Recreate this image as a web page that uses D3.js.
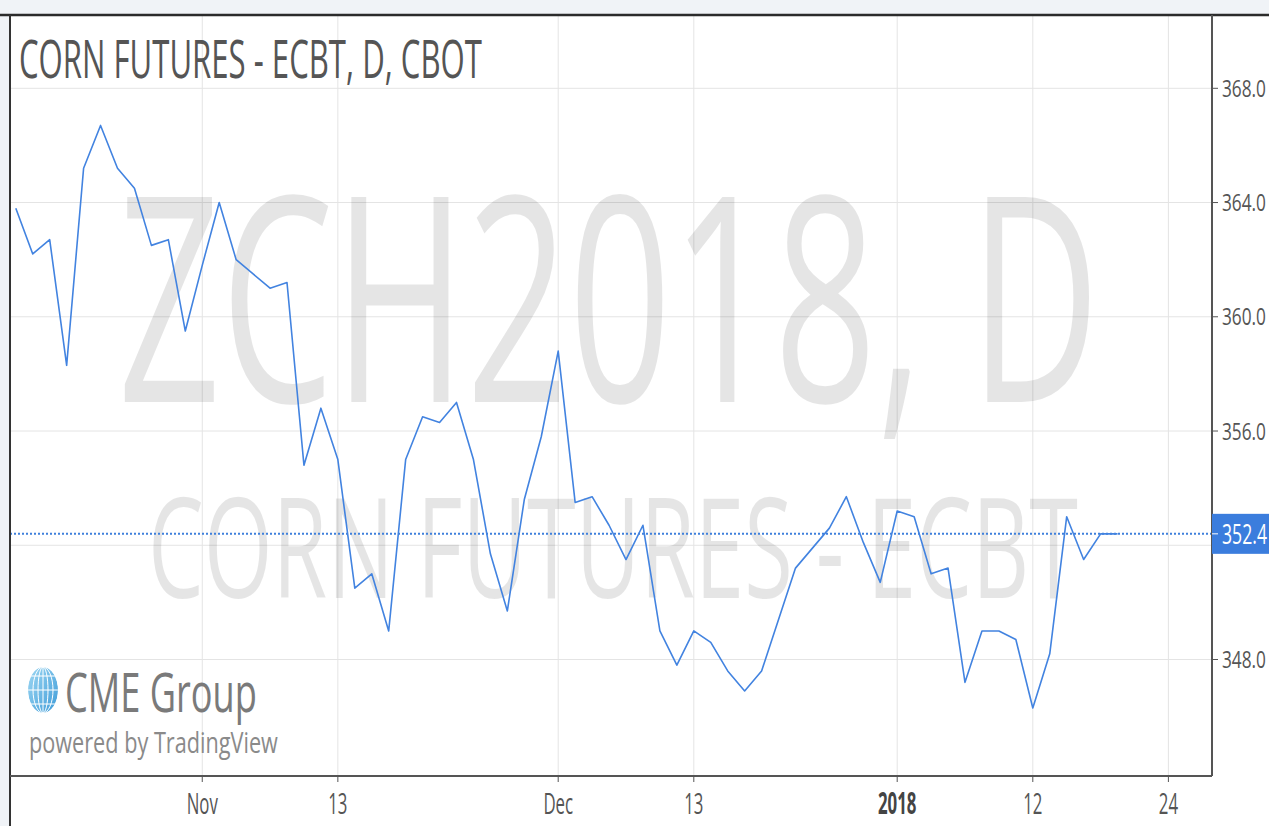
<!DOCTYPE html>
<html>
<head>
<meta charset="utf-8">
<script src="https://cdn.jsdelivr.net/npm/d3@7"></script>
<style>
  body { margin: 0; background: #f0f3f7; }
  svg { display: block; font-family: "Open Sans", "DejaVu Sans", sans-serif; }
</style>
</head>
<body>
<div class="chart"></div>
<script>
// daily closes, Oct 17 2017 -> Jan 19 2018 (one value per trading day)
var prices = [
  363.8, 362.2, 362.7, 358.3, 365.2, 366.7, 365.2, 364.5, 362.5, 362.7,
  359.5, 361.8, 364.0, 362.0, 361.5, 361.0, 361.2, 354.8, 356.8, 355.0,
  350.5, 351.0, 349.0, 355.0, 356.5, 356.3, 357.0, 355.0, 351.7, 349.7,
  353.6, 355.8, 358.8, 353.5, 353.7, 352.7, 351.5, 352.7, 349.0, 347.8,
  349.0, 348.6, 347.6, 346.9, 347.6, 349.4, 351.2, 351.9, 352.6, 353.7,
  352.1, 350.7, 353.2, 353.0, 351.0, 351.2, 347.2, 349.0, 349.0, 348.7,
  346.3, 348.2, 353.0, 351.5, 352.4, 352.4
];
var lastPrice = 352.4;

// x ticks: bar index where each label sits
var xTickIndex = [11, 19, 32, 40, 52, 60, 68];
var xTickLabels = ["Nov", "13", "Dec", "13", "2018", "12", "24"];

// price ticks
var yTicks = [348, 352, 356, 360, 364, 368];
var yTickLabels = ["348.0", "", "356.0", "360.0", "364.0", "368.0"];

var titleText = "CORN FUTURES - ECBT, D, CBOT";
var watermark1 = "ZCH2018, D";
var watermark2 = "CORN FUTURES - ECBT";

var svgWidth = 1269;
var svgHeight = 826;

var frame = { left: 10, top: 15, right: 1212, bottom: 776 };

var svg = d3.select(".chart")
  .append("svg")
  .attr("width", svgWidth)
  .attr("height", svgHeight);

// white panel
svg.append("rect")
  .attr("x", frame.left)
  .attr("y", frame.top)
  .attr("width", svgWidth - frame.left)
  .attr("height", svgHeight - frame.top)
  .attr("fill", "#fff");

// scales
var xScale = d3.scaleLinear()
  .domain([0, 68])
  .range([15.8, 1168.4]);

var yScale = d3.scaleLinear()
  .domain([348, 368])
  .range([659.5, 88.3]);

// TradingView text is squeezed horizontally: draw at 0,0 and
// scale x so the text ends up `width` px wide
function squeeze(sel, x, y, width) {
  sel.each(function (d, i) {
    var node = d3.select(this);
    var w = this.getComputedTextLength();
    var tw = typeof width === "function" ? width.call(this, w, d, i) : width;
    var px = typeof x === "function" ? x(d, i) : x;
    var py = typeof y === "function" ? y(d, i) : y;
    node.attr("x", 0).attr("y", 0)
      .attr("transform", `translate(${px},${py}) scale(${tw / w},1)`);
  });
}

// grid
var gridGroup = svg.append("g");
gridGroup.selectAll(".vgrid")
  .data(xTickIndex)
  .enter()
  .append("line")
  .attr("x1", d => xScale(d))
  .attr("x2", d => xScale(d))
  .attr("y1", frame.top)
  .attr("y2", frame.bottom)
  .attr("stroke", "#e4e4e4")
  .attr("stroke-width", 1);

gridGroup.selectAll(".hgrid")
  .data(yTicks)
  .enter()
  .append("line")
  .attr("x1", frame.left)
  .attr("x2", frame.right)
  .attr("y1", d => yScale(d))
  .attr("y2", d => yScale(d))
  .attr("stroke", "#e4e4e4")
  .attr("stroke-width", 1);

// watermark
var wm = svg.append("g")
  .attr("fill", "#000")
  .attr("fill-opacity", 0.1);

wm.append("text")
  .attr("text-anchor", "middle")
  .attr("font-size", 287)
  .text(watermark1)
  .call(squeeze, 609, 402, 982);

wm.append("text")
  .attr("text-anchor", "middle")
  .attr("font-size", 139)
  .text(watermark2)
  .call(squeeze, 613, 598, 930);

// title
svg.append("text")
  .attr("font-size", 53)
  .attr("fill", "#555")
  .text(titleText)
  .call(squeeze, 19, 78, 463);

// clip for the series
svg.append("clipPath")
  .attr("id", "plotClip")
  .append("rect")
  .attr("x", frame.left)
  .attr("y", frame.top)
  .attr("width", frame.right - frame.left)
  .attr("height", frame.bottom - frame.top);

// last price dotted line
svg.append("line")
  .attr("x1", frame.left)
  .attr("x2", frame.right)
  .attr("y1", yScale(lastPrice))
  .attr("y2", yScale(lastPrice))
  .attr("stroke", "#3f80dc")
  .attr("stroke-width", 2)
  .attr("stroke-dasharray", "2,2");

// price line
var line = d3.line()
  .x((d, i) => xScale(i))
  .y(d => yScale(d));

svg.append("path")
  .datum(prices)
  .attr("clip-path", "url(#plotClip)")
  .attr("d", line)
  .attr("fill", "none")
  .attr("stroke", "#4283e0")
  .attr("stroke-width", 1.6)
  .attr("stroke-linejoin", "round");

// CME logo: globe
var defs = svg.append("defs");
var grad = defs.append("linearGradient")
  .attr("id", "globeGrad")
  .attr("x1", "0").attr("y1", "0")
  .attr("x2", "1").attr("y2", "1");
grad.append("stop").attr("offset", "0%").attr("stop-color", "#9fd8f3");
grad.append("stop").attr("offset", "100%").attr("stop-color", "#3d9bd8");

defs.append("clipPath")
  .attr("id", "globeClip")
  .append("ellipse")
  .attr("cx", 43).attr("cy", 690)
  .attr("rx", 15).attr("ry", 23);

var globe = svg.append("g").attr("clip-path", "url(#globeClip)");
globe.append("ellipse")
  .attr("cx", 43).attr("cy", 690)
  .attr("rx", 15).attr("ry", 23)
  .attr("fill", "url(#globeGrad)");
[5, 10].forEach(function (r) {
  globe.append("ellipse")
    .attr("cx", 43).attr("cy", 690)
    .attr("rx", r).attr("ry", 23)
    .attr("fill", "none")
    .attr("stroke", "#fff")
    .attr("stroke-width", 1);
});
globe.append("line")
  .attr("x1", 43).attr("x2", 43)
  .attr("y1", 667).attr("y2", 713)
  .attr("stroke", "#fff").attr("stroke-width", 1);
[676, 690, 704].forEach(function (y) {
  globe.append("line")
    .attr("x1", 27).attr("x2", 59)
    .attr("y1", y).attr("y2", y)
    .attr("stroke", "#fff").attr("stroke-width", 1);
});

svg.append("text")
  .attr("font-size", 55)
  .attr("fill", "#7a7a7a")
  .text("CME Group")
  .call(squeeze, 65, 712, 192);

svg.append("text")
  .attr("font-size", 30)
  .attr("fill", "#8a8a8a")
  .text("powered by TradingView")
  .call(squeeze, 29, 753, 249);

// frame borders
svg.append("line")
  .attr("x1", 0).attr("x2", svgWidth)
  .attr("y1", frame.top).attr("y2", frame.top)
  .attr("stroke", "#2b2b2b").attr("stroke-width", 2.5);
svg.append("line")
  .attr("x1", frame.left).attr("x2", frame.left)
  .attr("y1", frame.top).attr("y2", svgHeight)
  .attr("stroke", "#333").attr("stroke-width", 2);

// right price axis
var yAxisGroup = svg.append("g");
yAxisGroup.append("line")
  .attr("x1", frame.right).attr("x2", frame.right)
  .attr("y1", frame.top).attr("y2", frame.bottom)
  .attr("stroke", "#555").attr("stroke-width", 2);

var yTickData = yTicks.map((d, i) => ({ v: d, label: yTickLabels[i] }))
  .filter(d => d.label !== "");

yAxisGroup.selectAll(".ytick")
  .data(yTickData)
  .enter()
  .append("line")
  .attr("x1", frame.right)
  .attr("x2", frame.right + 6)
  .attr("y1", d => yScale(d.v))
  .attr("y2", d => yScale(d.v))
  .attr("stroke", "#555");

yAxisGroup.selectAll(".ylabel")
  .data(yTickData)
  .enter()
  .append("text")
  .attr("font-size", 24)
  .attr("fill", "#555")
  .text(d => d.label)
  .call(squeeze, 1222, d => yScale(d.v) + 8.5, 44);

// last price box
var ly = yScale(lastPrice);
yAxisGroup.append("rect")
  .attr("x", frame.right)
  .attr("y", ly - 20)
  .attr("width", svgWidth - frame.right)
  .attr("height", 40)
  .attr("fill", "#3b7ddd");
yAxisGroup.append("line")
  .attr("x1", frame.right).attr("x2", frame.right + 6)
  .attr("y1", ly).attr("y2", ly)
  .attr("stroke", "#fff");
yAxisGroup.append("text")
  .attr("font-size", 27)
  .attr("fill", "#fff")
  .text(lastPrice.toFixed(1))
  .call(squeeze, 1222, ly + 10, 45);

// bottom time axis
var xAxisGroup = svg.append("g");
xAxisGroup.append("line")
  .attr("x1", frame.left).attr("x2", frame.right)
  .attr("y1", frame.bottom).attr("y2", frame.bottom)
  .attr("stroke", "#555").attr("stroke-width", 2);

xAxisGroup.selectAll(".xtick")
  .data(xTickIndex)
  .enter()
  .append("line")
  .attr("x1", d => xScale(d))
  .attr("x2", d => xScale(d))
  .attr("y1", frame.bottom)
  .attr("y2", frame.bottom + 6)
  .attr("stroke", "#555");

xAxisGroup.selectAll(".xlabel")
  .data(xTickIndex)
  .enter()
  .append("text")
  .attr("text-anchor", "middle")
  .attr("font-size", 30)
  .attr("font-weight", (d, i) => xTickLabels[i] === "2018" ? "bold" : "normal")
  .attr("fill", (d, i) => xTickLabels[i] === "2018" ? "#444" : "#555")
  .text((d, i) => xTickLabels[i])
  .call(squeeze, d => xScale(d), 814, w => w * 0.56);
</script>
</body>
</html>
